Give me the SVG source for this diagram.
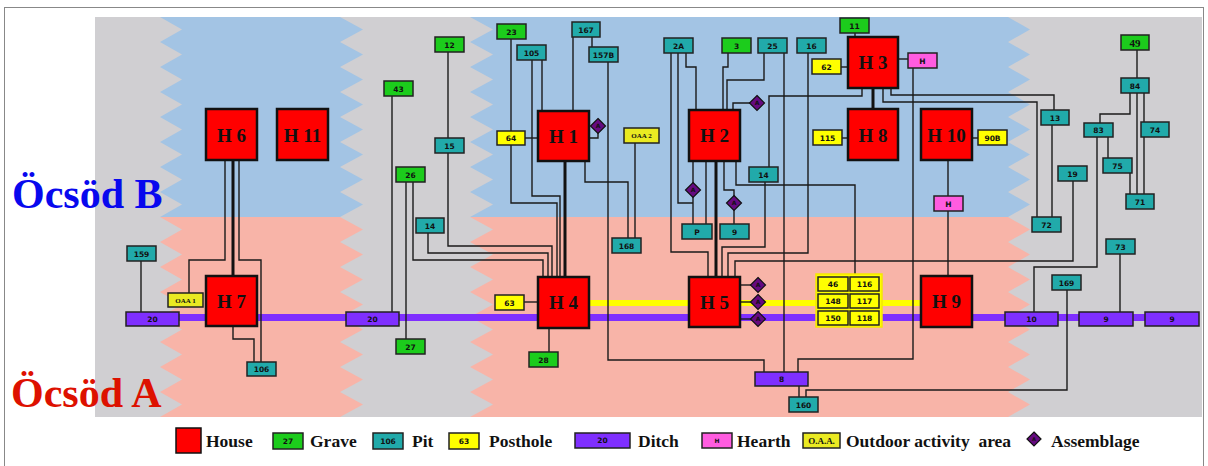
<svg xmlns="http://www.w3.org/2000/svg" width="1208" height="466" viewBox="0 0 1208 466">
<style>
.house{fill:#ff0000;stroke:#111;stroke-width:2.5}
.box{stroke:#222;stroke-width:1.5}
.grave{fill:#1ccc1c}
.pit{fill:#21aaaa}
.post{fill:#ffff00}
.ditch{fill:#7f2fff}
.hearth{fill:#ff5ce0}
.oaa{fill:#eaea22}
.asm{fill:#660a80;stroke:#111;stroke-width:1.2}
.ht{font-family:"Liberation Serif",serif;font-weight:bold;font-size:19px;text-anchor:middle;fill:#111}
.lt{font-family:"DejaVu Sans",sans-serif;font-weight:bold;font-size:7.5px;text-anchor:middle;fill:#111}
.st{font-family:"Liberation Serif",serif;font-weight:bold;font-size:7px;text-anchor:middle;fill:#111}
.at{font-family:"DejaVu Sans",sans-serif;font-weight:bold;font-size:6px;text-anchor:middle;fill:#111}
.leg{font-family:"Liberation Serif",serif;font-weight:bold;font-size:17.5px;fill:#111}
.c{fill:none;stroke:#1a1a1a;stroke-width:1.4}
.tk{fill:none;stroke:#111;stroke-width:3}
</style>
<defs>
<clipPath id="topHalf"><rect x="0" y="0" width="1208" height="217"/></clipPath>
<clipPath id="botHalf"><rect x="0" y="217" width="1208" height="249"/></clipPath>
<polygon id="col1" points="160,17 182,29.5 160,42 182,54.5 160,67 182,79.5 160,92 182,104.5 160,117 182,129.5 160,142 182,154.5 160,167 182,179.5 160,192 182,204.5 160,217 182,229.5 160,242 182,254.5 160,267 182,279.5 160,292 182,304.5 160,317 182,329.5 160,342 182,354.5 160,367 182,379.5 160,392 182,404.5 160,417 340,417 363,404.5 340,392 363,379.5 340,367 363,354.5 340,342 363,329.5 340,317 363,304.5 340,292 363,279.5 340,267 363,254.5 340,242 363,229.5 340,217 363,204.5 340,192 363,179.5 340,167 363,154.5 340,142 363,129.5 340,117 363,104.5 340,92 363,79.5 340,67 363,54.5 340,42 363,29.5 340,17"/>
<polygon id="col2" points="470,17 493,29.5 470,42 493,54.5 470,67 493,79.5 470,92 493,104.5 470,117 493,129.5 470,142 493,154.5 470,167 493,179.5 470,192 493,204.5 470,217 493,229.5 470,242 493,254.5 470,267 493,279.5 470,292 493,304.5 470,317 493,329.5 470,342 493,354.5 470,367 493,379.5 470,392 493,404.5 470,417 1008,417 1030,404.5 1008,392 1030,379.5 1008,367 1030,354.5 1008,342 1030,329.5 1008,317 1030,304.5 1008,292 1030,279.5 1008,267 1030,254.5 1008,242 1030,229.5 1008,217 1030,204.5 1008,192 1030,179.5 1008,167 1030,154.5 1008,142 1030,129.5 1008,117 1030,104.5 1008,92 1030,79.5 1008,67 1030,54.5 1008,42 1030,29.5 1008,17"/>
</defs>
<rect x="0" y="0" width="1208" height="466" fill="#ffffff"/>
<rect x="4.5" y="7.5" width="1199" height="470" fill="none" stroke="#888" stroke-width="1"/>
<g id="background">
<rect x="95" y="17" width="1107" height="400" fill="#d0cfd2"/>
<use href="#col1" fill="#a3c4e4" clip-path="url(#topHalf)"/>
<use href="#col1" fill="#f8b4a8" clip-path="url(#botHalf)"/>
<use href="#col2" fill="#a3c4e4" clip-path="url(#topHalf)"/>
<use href="#col2" fill="#f8b4a8" clip-path="url(#botHalf)"/>
</g>
<g id="titles">
<text x="12" y="208" font-family="Liberation Serif, serif" font-weight="bold" font-size="42" fill="#0808ee">Öcsöd B</text>
<text x="11" y="407" font-family="Liberation Serif, serif" font-weight="bold" font-size="42" fill="#dd1100">Öcsöd A</text>
</g>
<g id="bands">
<line x1="130" y1="317.5" x2="1195" y2="317.5" stroke="#7f2fff" stroke-width="7"/>
<line x1="580" y1="303" x2="930" y2="303" stroke="#ffff00" stroke-width="6"/>
</g>
<g id="connectors">
<polyline class="c" points="189,293 189,260 225,260 225,160"/>
<polyline class="tk" points="233,160 233,276"/>
<polyline class="c" points="239,160 239,260 261,260 261,362"/>
<polyline class="c" points="233,326 233,339 254,339 254,362"/>
<polyline class="c" points="141,261 141,312"/>
<polyline class="c" points="392,96 392,312"/>
<polyline class="c" points="406,182 406,339"/>
<polyline class="c" points="413,182 413,260 543,260 543,277"/>
<polyline class="c" points="428,233 428,253 548,253 548,277"/>
<polyline class="c" points="448,52 448,138"/>
<polyline class="c" points="448,153 448,246 552,246 552,277"/>
<polyline class="c" points="511,39 511,131"/>
<polyline class="c" points="511,145 511,203 557,203 557,277"/>
<polyline class="c" points="532,60 532,196 560,196 560,277"/>
<polyline class="c" points="542,60 542,111"/>
<polyline class="c" points="573,37 573,111"/>
<polyline class="c" points="592,37 592,47"/>
<polyline class="c" points="608,62 608,360 764,360 764,372"/>
<polyline class="c" points="525,138 538,138"/>
<polyline class="c" points="589,138 598,138 598,133"/>
<polyline class="tk" points="565,161 565,277"/>
<polyline class="c" points="585,161 585,182 628,182 628,238"/>
<polyline class="c" points="635,143 635,238"/>
<polyline class="c" points="524,302 538,302"/>
<polyline class="c" points="549,328 549,352"/>
<polyline class="c" points="671,53 671,252 708,252 708,277"/>
<polyline class="c" points="678,53 678,203 693,203"/>
<polyline class="c" points="686,53 686,67 696,67 696,110"/>
<polyline class="c" points="693,161 693,224"/>
<polyline class="c" points="706,161 706,224"/>
<polyline class="tk" points="716,161 716,277"/>
<polyline class="c" points="724,161 724,190 734,190 734,224"/>
<polyline class="c" points="736,161 736,185 855,185 855,274"/>
<polyline class="c" points="728,53 728,67 723,67 723,110"/>
<polyline class="c" points="764,53 764,80 727,80 727,110"/>
<polyline class="c" points="733,110 733,103 750,103"/>
<polyline class="c" points="784,53 784,372"/>
<polyline class="c" points="808,53 808,253 728,253 728,277"/>
<polyline class="c" points="765,182 765,247 722,247 722,277"/>
<polyline class="c" points="1073,181 1073,261 735,261 735,277"/>
<polyline class="c" points="862,88 862,96 769,96 769,167"/>
<polyline class="c" points="740,285 751,285"/>
<polyline class="c" points="740,302 751,302"/>
<polyline class="c" points="740,319 751,319"/>
<polyline class="c" points="855,33 855,37"/>
<polyline class="c" points="841,67 848,67"/>
<polyline class="c" points="898,59 908,59"/>
<polyline class="c" points="913,68 913,359 798,359 798,372"/>
<polyline class="tk" points="873,88 873,109"/>
<polyline class="c" points="842,138 848,138"/>
<polyline class="c" points="972,138 978,138"/>
<polyline class="c" points="948,160 948,196"/>
<polyline class="c" points="948,211 948,276"/>
<polyline class="c" points="883,88 883,102 1037,102 1037,217"/>
<polyline class="c" points="891,88 891,95 1054,95 1054,110"/>
<polyline class="c" points="1052,125 1052,217"/>
<polyline class="c" points="799,386 799,397"/>
<polyline class="c" points="1067,290 1067,390 806,390 806,397"/>
<polyline class="c" points="1097,137 1097,267 1034,267 1034,312"/>
<polyline class="c" points="1120,254 1120,312"/>
<polyline class="c" points="1137,50 1137,78"/>
<polyline class="c" points="1130,93 1130,114 1100,114 1100,123"/>
<polyline class="c" points="1137,93 1137,194"/>
<polyline class="c" points="1144,93 1144,122"/>
<polyline class="c" points="1144,137 1144,194"/>
<polyline class="c" points="1108,137 1108,158"/>
<polyline class="c" points="1130,173 1130,194"/>
</g>
<g id="houses">
<g id="H6"><rect class="house" x="206" y="109" width="51" height="51"/><text class="ht" x="231.5" y="142">H 6</text></g>
<g id="H11"><rect class="house" x="277" y="109" width="51" height="51"/><text class="ht" x="302.5" y="142">H 11</text></g>
<g id="H7"><rect class="house" x="206" y="276" width="51" height="50"/><text class="ht" x="231.5" y="308">H 7</text></g>
<g id="H1"><rect class="house" x="538" y="111" width="51" height="50"/><text class="ht" x="563.5" y="143">H 1</text></g>
<g id="H4"><rect class="house" x="538" y="277" width="51" height="51"/><text class="ht" x="563.5" y="309">H 4</text></g>
<g id="H2"><rect class="house" x="689" y="110" width="51" height="51"/><text class="ht" x="714.5" y="142">H 2</text></g>
<g id="H5"><rect class="house" x="689" y="277" width="51" height="50"/><text class="ht" x="714.5" y="309">H 5</text></g>
<g id="H3"><rect class="house" x="848" y="37" width="50" height="51"/><text class="ht" x="873" y="69">H 3</text></g>
<g id="H8"><rect class="house" x="848" y="109" width="50" height="51"/><text class="ht" x="873" y="142">H 8</text></g>
<g id="H10"><rect class="house" x="921" y="109" width="51" height="51"/><text class="ht" x="946.5" y="142">H 10</text></g>
<g id="H9"><rect class="house" x="921" y="276" width="51" height="51"/><text class="ht" x="946.5" y="308">H 9</text></g>
</g>
<g id="graves">
<g id="G12"><rect class="box grave" x="435" y="37" width="29" height="15"/><text class="lt" x="449.5" y="47.5">12</text></g>
<g id="G43"><rect class="box grave" x="384" y="81" width="29" height="15"/><text class="lt" x="398.5" y="91.5">43</text></g>
<g id="G26"><rect class="box grave" x="396" y="167" width="29" height="15"/><text class="lt" x="410.5" y="177.5">26</text></g>
<g id="G27"><rect class="box grave" x="396" y="339" width="29" height="15"/><text class="lt" x="410.5" y="349.5">27</text></g>
<g id="G23"><rect class="box grave" x="497" y="24" width="29" height="15"/><text class="lt" x="511.5" y="34.5">23</text></g>
<g id="G28"><rect class="box grave" x="529" y="352" width="29" height="15"/><text class="lt" x="543.5" y="362.5">28</text></g>
<g id="G3"><rect class="box grave" x="722" y="38" width="29" height="15"/><text class="lt" x="736.5" y="48.5">3</text></g>
<g id="G11"><rect class="box grave" x="840" y="18" width="29" height="15"/><text class="lt" x="854.5" y="28.5">11</text></g>
<g id="G49"><rect class="box grave" x="1121" y="35" width="28" height="15"/><text x="1135" y="47" font-family="Liberation Serif, serif" font-weight="bold" font-size="11" text-anchor="middle" fill="#111">49</text></g>
</g>
<g id="pits">
<g id="P159"><rect class="box pit" x="127" y="246" width="29" height="15"/><text class="lt" x="141.5" y="256.5">159</text></g>
<g id="P106"><rect class="box pit" x="247" y="362" width="29" height="14"/><text class="lt" x="261.5" y="372">106</text></g>
<g id="P15"><rect class="box pit" x="435" y="138" width="29" height="15"/><text class="lt" x="449.5" y="148.5">15</text></g>
<g id="P14a"><rect class="box pit" x="416" y="218" width="28" height="15"/><text class="lt" x="430" y="228.5">14</text></g>
<g id="P105"><rect class="box pit" x="517" y="45" width="29" height="15"/><text class="lt" x="531.5" y="55.5">105</text></g>
<g id="P167"><rect class="box pit" x="572" y="22" width="28" height="15"/><text class="lt" x="586" y="32.5">167</text></g>
<g id="P157B"><rect class="box pit" x="589" y="47" width="29" height="15"/><text class="lt" x="603.5" y="57.5">157B</text></g>
<g id="P168"><rect class="box pit" x="612" y="238" width="29" height="15"/><text class="lt" x="626.5" y="248.5">168</text></g>
<g id="P2A"><rect class="box pit" x="664" y="38" width="29" height="15"/><text class="lt" x="678.5" y="48.5">2A</text></g>
<g id="P25"><rect class="box pit" x="758" y="38" width="29" height="15"/><text class="lt" x="772.5" y="48.5">25</text></g>
<g id="P16"><rect class="box pit" x="797" y="38" width="29" height="15"/><text class="lt" x="811.5" y="48.5">16</text></g>
<g id="P14b"><rect class="box pit" x="749" y="167" width="29" height="15"/><text class="lt" x="763.5" y="177.5">14</text></g>
<g id="PP"><rect class="box pit" x="682" y="224" width="30" height="15"/><text class="lt" x="697" y="234.5">P</text></g>
<g id="P9"><rect class="box pit" x="720" y="224" width="29" height="15"/><text class="lt" x="734.5" y="234.5">9</text></g>
<g id="P13"><rect class="box pit" x="1041" y="110" width="28" height="15"/><text class="lt" x="1055" y="120.5">13</text></g>
<g id="P72"><rect class="box pit" x="1032" y="217" width="29" height="15"/><text class="lt" x="1046.5" y="227.5">72</text></g>
<g id="P19"><rect class="box pit" x="1058" y="166" width="29" height="15"/><text class="lt" x="1072.5" y="176.5">19</text></g>
<g id="P84"><rect class="box pit" x="1121" y="78" width="28" height="15"/><text class="lt" x="1135" y="88.5">84</text></g>
<g id="P83"><rect class="box pit" x="1084" y="123" width="29" height="14"/><text class="lt" x="1098.5" y="133">83</text></g>
<g id="P74"><rect class="box pit" x="1141" y="122" width="28" height="15"/><text class="lt" x="1155" y="132.5">74</text></g>
<g id="P75"><rect class="box pit" x="1103" y="158" width="29" height="15"/><text class="lt" x="1117.5" y="168.5">75</text></g>
<g id="P71"><rect class="box pit" x="1126" y="194" width="28" height="15"/><text class="lt" x="1140" y="204.5">71</text></g>
<g id="P73"><rect class="box pit" x="1106" y="239" width="29" height="15"/><text class="lt" x="1120.5" y="249.5">73</text></g>
<g id="P169"><rect class="box pit" x="1052" y="275" width="29" height="15"/><text class="lt" x="1066.5" y="285.5">169</text></g>
<g id="P160"><rect class="box pit" x="789" y="397" width="29" height="15"/><text class="lt" x="803.5" y="407.5">160</text></g>
</g>
<g id="postholes">
<g id="PH64"><rect class="box post" x="497" y="131" width="28" height="14"/><text class="lt" x="511" y="141">64</text></g>
<g id="PH63"><rect class="box post" x="495" y="295" width="29" height="15"/><text class="lt" x="509.5" y="305.5">63</text></g>
<g id="PH62"><rect class="box post" x="812" y="59" width="29" height="15"/><text class="lt" x="826.5" y="69.5">62</text></g>
<g id="PH115"><rect class="box post" x="813" y="130" width="29" height="15"/><text class="lt" x="827.5" y="140.5">115</text></g>
<g id="PH90B"><rect class="box post" x="978" y="130" width="29" height="15"/><text class="lt" x="992.5" y="140.5">90B</text></g>
<g id="PHgroup">
<rect x="816" y="274" width="66" height="53" fill="#ffff00" stroke="#f4e800" stroke-width="1.5"/>
<rect class="box post" x="818" y="277" width="30" height="14"/><text class="lt" x="833" y="287">46</text>
<rect class="box post" x="850" y="277" width="29" height="14"/><text class="lt" x="864.5" y="287">116</text>
<rect class="box post" x="818" y="294" width="30" height="14"/><text class="lt" x="833" y="304">148</text>
<rect class="box post" x="850" y="294" width="29" height="14"/><text class="lt" x="864.5" y="304">117</text>
<rect class="box post" x="818" y="311" width="30" height="14"/><text class="lt" x="833" y="321">150</text>
<rect class="box post" x="850" y="311" width="29" height="14"/><text class="lt" x="864.5" y="321">118</text>
</g>
</g>
<g id="oaas">
<g id="OAA1"><rect class="box oaa" x="168" y="293" width="35" height="14"/><text class="st" x="185.5" y="302.5">OAA 1</text></g>
<g id="OAA2"><rect class="box oaa" x="624" y="128" width="35" height="15"/><text class="st" x="641.5" y="138">OAA 2</text></g>
</g>
<g id="hearths">
<g id="HE3"><rect class="box hearth" x="908" y="53" width="29" height="15"/><text class="lt" x="922.5" y="63.5">H</text></g>
<g id="HE10"><rect class="box hearth" x="934" y="196" width="29" height="15"/><text class="lt" x="948.5" y="206.5">H</text></g>
</g>
<g id="ditches">
<g id="D20a"><rect class="box ditch" x="126" y="312" width="53" height="14"/><text class="lt" x="152.5" y="322">20</text></g>
<g id="D20b"><rect class="box ditch" x="346" y="312" width="53" height="14"/><text class="lt" x="372.5" y="322">20</text></g>
<g id="D8"><rect class="box ditch" x="755" y="372" width="53" height="14"/><text class="lt" x="781.5" y="382">8</text></g>
<g id="D10"><rect class="box ditch" x="1005" y="312" width="53" height="14"/><text class="lt" x="1031.5" y="322">10</text></g>
<g id="D9a"><rect class="box ditch" x="1079" y="312" width="54" height="14"/><text class="lt" x="1106" y="322">9</text></g>
<g id="D9b"><rect class="box ditch" x="1145" y="312" width="54" height="14"/><text class="lt" x="1172" y="322">9</text></g>
</g>
<g id="assemblages">
<g id="A1"><polygon class="asm" points="598,118.5 605.5,126 598,133.5 590.5,126"/><text class="at" x="598" y="128.2">A</text></g>
<g id="A2"><polygon class="asm" points="757,95.5 764.5,103 757,110.5 749.5,103"/><text class="at" x="757" y="105.2">A</text></g>
<g id="A3"><polygon class="asm" points="693,182.5 700.5,190 693,197.5 685.5,190"/><text class="at" x="693" y="192.2">A</text></g>
<g id="A4"><polygon class="asm" points="734,195.5 741.5,203 734,210.5 726.5,203"/><text class="at" x="734" y="205.2">A</text></g>
<g id="A5"><polygon class="asm" points="758,277.5 765.5,285 758,292.5 750.5,285"/><text class="at" x="758" y="287.2">A</text></g>
<g id="A6"><polygon class="asm" points="758,294.5 765.5,302 758,309.5 750.5,302"/><text class="at" x="758" y="304.2">A</text></g>
<g id="A7"><polygon class="asm" points="758,311.5 765.5,319 758,326.5 750.5,319"/><text class="at" x="758" y="321.2">A</text></g>
</g>
<g id="legend">
<rect class="house" x="176" y="428" width="25" height="25" style="stroke-width:1.5px"/>
<text class="leg" x="206" y="447">House</text>
<rect class="box grave" x="273" y="433" width="30" height="16"/><text class="lt" x="288" y="443.5">27</text>
<text class="leg" x="310" y="447">Grave</text>
<rect class="box pit" x="373" y="433" width="30" height="16"/><text class="lt" x="388" y="443.5">106</text>
<text class="leg" x="412" y="447">Pit</text>
<rect class="box post" x="449" y="433" width="30" height="16"/><text class="lt" x="464" y="443.5">63</text>
<text class="leg" x="489" y="447">Posthole</text>
<rect class="box ditch" x="575" y="433" width="55" height="15"/><text class="lt" x="602.5" y="443">20</text>
<text class="leg" x="638" y="447">Ditch</text>
<rect class="box hearth" x="702" y="433" width="30" height="15"/><text class="at" x="717" y="443">H</text>
<text class="leg" x="737" y="447">Hearth</text>
<rect class="box oaa" x="803" y="433" width="37" height="15"/><text class="st" x="821.5" y="444" style="font-size:9px">O.A.A.</text>
<text class="leg" x="846" y="447" xml:space="preserve">Outdoor activity  area</text>
<polygon class="asm" points="1034,432 1041,439 1034,446 1027,439"/><text class="at" x="1034" y="441" style="font-size:5px">A</text>
<text class="leg" x="1051" y="447">Assemblage</text>
</g>
</svg>
